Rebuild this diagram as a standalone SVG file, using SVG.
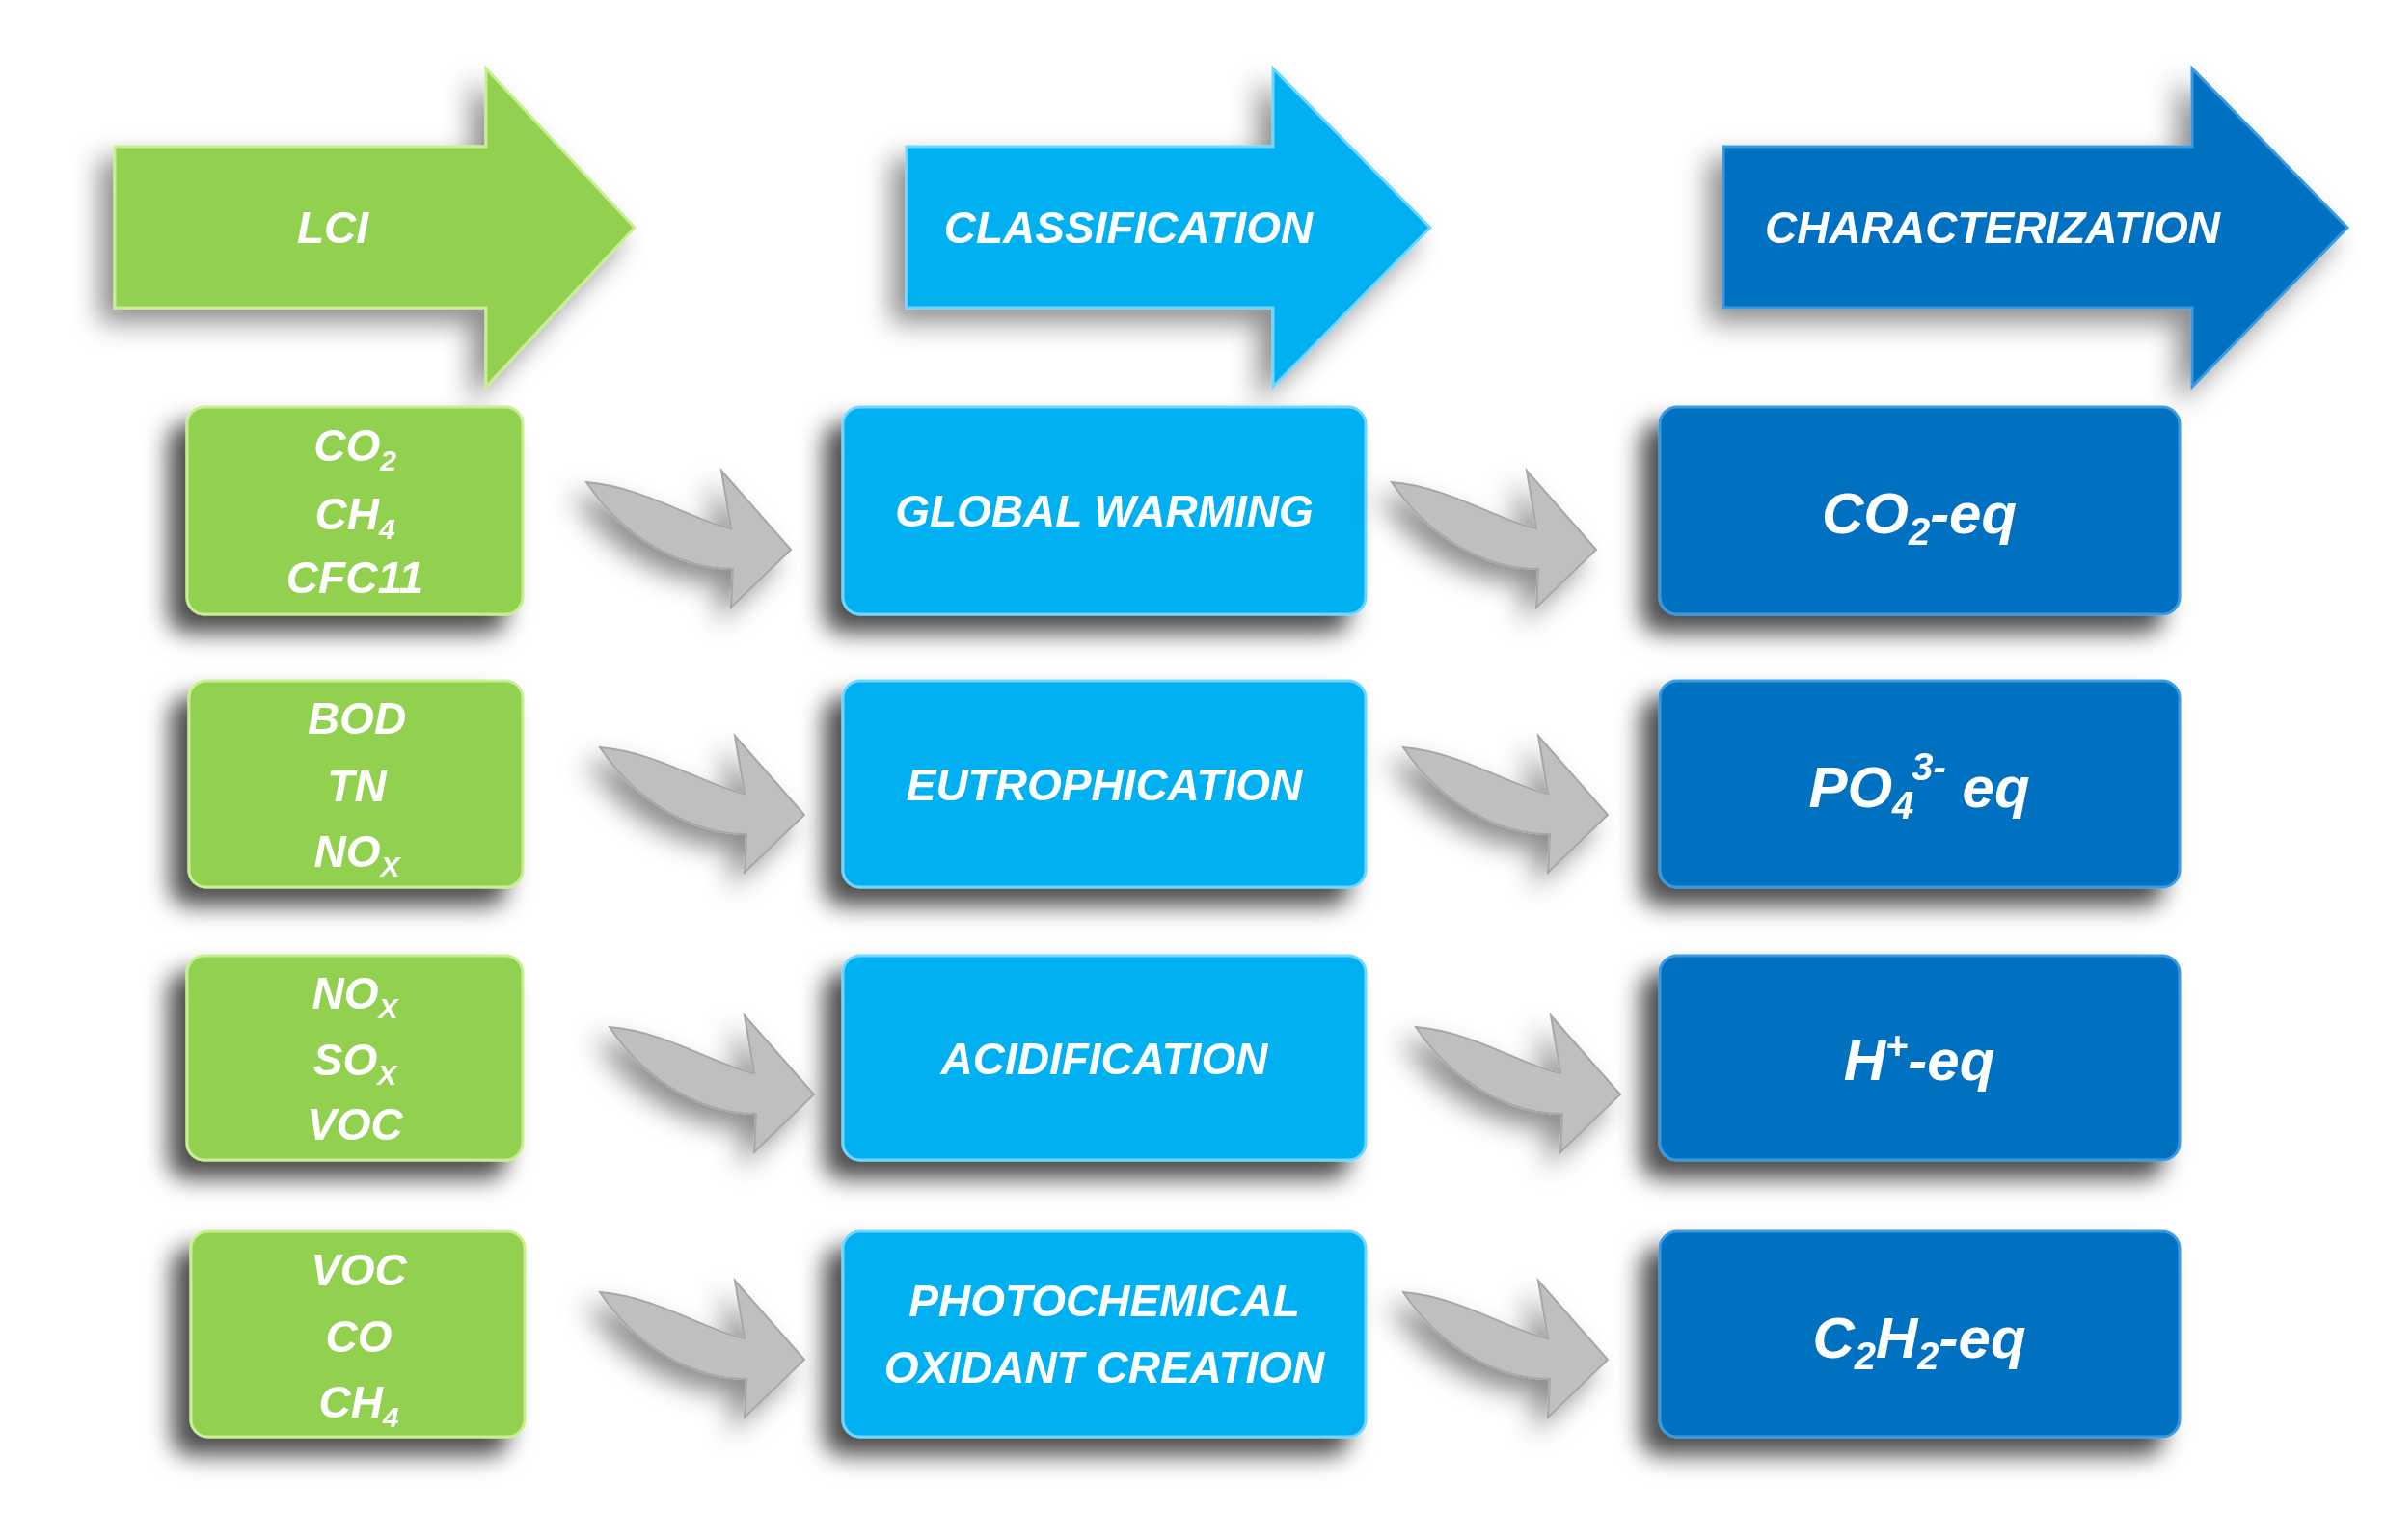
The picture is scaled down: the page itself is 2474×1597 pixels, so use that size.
<svg xmlns="http://www.w3.org/2000/svg" width="2474" height="1597" viewBox="0 0 2474 1597">
<defs>
<filter id="sh" x="-30%" y="-30%" width="160%" height="160%"><feDropShadow dx="-18" dy="18" stdDeviation="12" flood-color="#000" flood-opacity="0.7"/></filter>
<filter id="sh2" x="-30%" y="-30%" width="160%" height="160%"><feDropShadow dx="-14" dy="14" stdDeviation="14" flood-color="#000" flood-opacity="0.45"/></filter>
<path id="ga" d="M0,20 C60,25 110,60 150,68 L140,8 L212,90 L150,150 L152,110 C100,110 40,80 0,20 Z"/>
</defs>
<style>
text{font-family:"Liberation Sans","Open Sans",sans-serif;font-style:italic;font-weight:bold;fill:#fff;text-anchor:middle}
.g{fill:#92D050;stroke:#C8EE90;stroke-width:3}
.c{fill:#00B0F0;stroke:#6FD6FF;stroke-width:3}
.d{fill:#0070C0;stroke:#3A9BE0;stroke-width:3}
.s{font-size:46px}.m{font-size:46px}.b{font-size:60px}
.a{fill:#BFBFBF;stroke:#A6A6A6;stroke-width:2}
</style>
<g id="lci" filter="url(#sh2)"><path class="g" d="M119,152 H504 V71 L658,236 L504,401 V319 H119 Z"/><text class="m" x="345" y="252">LCI</text></g>
<g id="classification" filter="url(#sh2)"><path class="c" d="M940,152 H1320 V71 L1483,236 L1320,401 V319 H940 Z"/><text class="m" x="1170" y="252">CLASSIFICATION</text></g>
<g id="characterization" filter="url(#sh2)"><path class="d" d="M1787,152 H2273 V71 L2434,236 L2273,401 V319 H1787 Z"/><text class="m" x="2066" y="252">CHARACTERIZATION</text></g>

<g id="lci1" filter="url(#sh)"><rect class="g" x="194" y="422" width="348" height="215" rx="18"/><text class="s" x="368"><tspan x="368" y="478">CO<tspan font-size="30" dy="10">2</tspan></tspan><tspan x="368" y="549">CH<tspan font-size="30" dy="10">4</tspan></tspan><tspan x="368" y="615">CFC11</tspan></text></g>
<g id="lci2" filter="url(#sh)"><rect class="g" x="196" y="706" width="346" height="214" rx="18"/><text class="s"><tspan x="370" y="761">BOD</tspan><tspan x="370" y="831">TN</tspan><tspan x="370" y="899">NO<tspan font-size="30" dy="10">X</tspan></tspan></text></g>
<g id="lci3" filter="url(#sh)"><rect class="g" x="194" y="991" width="348" height="212" rx="18"/><text class="s"><tspan x="368" y="1046">NO<tspan font-size="30" dy="10">X</tspan></tspan><tspan x="368" y="1115">SO<tspan font-size="30" dy="10">X</tspan></tspan><tspan x="368" y="1182">VOC</tspan></text></g>
<g id="lci4" filter="url(#sh)"><rect class="g" x="198" y="1277" width="346" height="213" rx="18"/><text class="s"><tspan x="372" y="1333">VOC</tspan><tspan x="372" y="1402">CO</tspan><tspan x="372" y="1470">CH<tspan font-size="30" dy="10">4</tspan></tspan></text></g>

<g id="cls1" filter="url(#sh)"><rect class="c" x="874" y="422" width="542" height="215" rx="18"/><text class="m" x="1145" y="546">GLOBAL WARMING</text></g>
<g id="cls2" filter="url(#sh)"><rect class="c" x="874" y="706" width="542" height="214" rx="18"/><text class="m" x="1145" y="830">EUTROPHICATION</text></g>
<g id="cls3" filter="url(#sh)"><rect class="c" x="874" y="991" width="542" height="212" rx="18"/><text class="m" x="1145" y="1114">ACIDIFICATION</text></g>
<g id="cls4" filter="url(#sh)"><rect class="c" x="874" y="1277" width="542" height="213" rx="18"/><text class="m"><tspan x="1145" y="1365">PHOTOCHEMICAL</tspan><tspan x="1145" y="1434">OXIDANT CREATION</tspan></text></g>

<g id="chr1" filter="url(#sh)"><rect class="d" x="1721" y="422" width="539" height="215" rx="18"/><text class="b" x="1990" y="553">CO<tspan font-size="40" dy="12">2</tspan><tspan dy="-12">-eq</tspan></text></g>
<g id="chr2" filter="url(#sh)"><rect class="d" x="1721" y="706" width="539" height="214" rx="18"/><text class="b" x="1990" y="837">PO<tspan font-size="40" dy="12">4</tspan><tspan font-size="40" dx="-2" dy="-40">3-</tspan><tspan dy="28"> eq</tspan></text></g>
<g id="chr3" filter="url(#sh)"><rect class="d" x="1721" y="991" width="539" height="212" rx="18"/><text class="b" x="1990" y="1120">H<tspan font-size="40" dy="-22">+</tspan><tspan dy="22">-eq</tspan></text></g>
<g id="chr4" filter="url(#sh)"><rect class="d" x="1721" y="1277" width="539" height="213" rx="18"/><text class="b" x="1990" y="1408">C<tspan font-size="40" dy="12">2</tspan><tspan dy="-12">H</tspan><tspan font-size="40" dy="12">2</tspan><tspan dy="-12">-eq</tspan></text></g>

<g id="connectors" filter="url(#sh2)">
<use href="#ga" class="a" transform="translate(608,480)"/>
<use href="#ga" class="a" transform="translate(1443,480)"/>
<use href="#ga" class="a" transform="translate(622,755)"/>
<use href="#ga" class="a" transform="translate(1455,755)"/>
<use href="#ga" class="a" transform="translate(632,1045)"/>
<use href="#ga" class="a" transform="translate(1468,1045)"/>
<use href="#ga" class="a" transform="translate(622,1320)"/>
<use href="#ga" class="a" transform="translate(1455,1320)"/>
</g>
</svg>
